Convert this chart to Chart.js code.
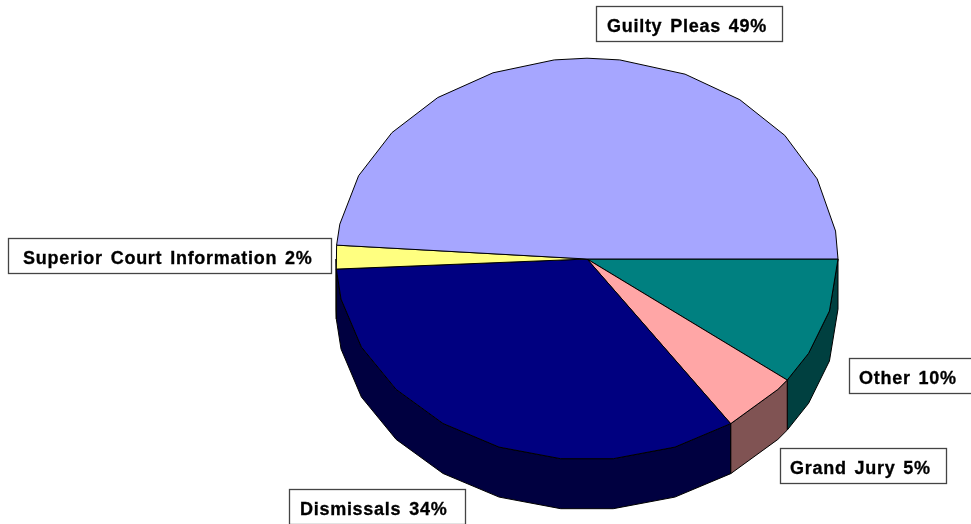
<!DOCTYPE html>
<html>
<head>
<meta charset="utf-8">
<title>Case dispositions</title>
<script src="https://cdn.jsdelivr.net/npm/chart.js@4"></script>
<style>
html, body { margin: 0; padding: 0; background: #fff; overflow: hidden; }
canvas { display: block; }
</style>
</head>
<body>
<canvas id="myChart" width="971" height="524"></canvas>
<script>
// clockwise from 3 o'clock (labels show them rounded)
var categories = ['Other', 'Grand Jury', 'Dismissals', 'Superior Court Information', 'Guilty Pleas'];
var values = [10.3, 5.0, 33.9, 1.9, 48.9];
var topColors = ['#008080', '#FFA6A6', '#000080', '#FFFF80', '#A6A6FF'];
var sideColors = ['#004040', '#805353', '#000040', '#808040', '#535380'];

// label boxes, same order as categories: x, y, w, h, text x, baseline
var boxes = [
    [849.5, 358.5, 130, 35, 859, 384],
    [780.5, 448.5, 166, 35, 790, 474],
    [289.5, 489.5, 176, 35, 300, 515],
    [8.5, 238.5, 323, 35, 23, 264],
    [596.5, 6.5, 186, 35, 607, 32]
];

var tilt = 0.8;
var depth = 50;

// the original pie is faceted, these are its rim corners in degrees
var rimCorners = [15, 28, 40.5, 55, 69.5, 84, 96, 110.5, 125, 139.5, 154, 168.5,
    190, 204.5, 219, 233.5, 248, 262.5, 270, 277.5, 293, 307.5, 322, 336.5, 352];

function rimAngles(start, end) {
    var list = [start];
    rimCorners.forEach(function(deg) {
        var a = deg * Math.PI / 180;
        if (a > start && a < end) list.push(a);
    });
    list.push(end);
    return list;
}

var pie3d = {
    id: 'pie3d',
    beforeDatasetsDraw: function(chart) {
        var ctx = chart.ctx;
        var arcs = chart.getDatasetMeta(0).data;
        ctx.save();
        ctx.lineWidth = 1;
        ctx.strokeStyle = '#000';
        ctx.lineJoin = 'round';

        // sides, only the front half shows
        arcs.forEach(function(arc, i) {
            var s = Math.max(arc.startAngle, 0);
            var e = Math.min(arc.endAngle, Math.PI);
            if (e <= s) return;
            var pts = rimAngles(s, e);
            ctx.beginPath();
            pts.forEach(function(a, n) {
                var x = arc.x + arc.outerRadius * Math.cos(a);
                var y = arc.y + arc.outerRadius * tilt * Math.sin(a);
                if (n === 0) ctx.moveTo(x, y); else ctx.lineTo(x, y);
            });
            pts.reverse().forEach(function(a) {
                ctx.lineTo(arc.x + arc.outerRadius * Math.cos(a),
                    arc.y + arc.outerRadius * tilt * Math.sin(a) + depth);
            });
            ctx.closePath();
            ctx.fillStyle = sideColors[i];
            ctx.fill();
            ctx.stroke();
        });

        // top faces
        arcs.forEach(function(arc, i) {
            ctx.beginPath();
            ctx.moveTo(arc.x, arc.y);
            rimAngles(arc.startAngle, arc.endAngle).forEach(function(a) {
                ctx.lineTo(arc.x + arc.outerRadius * Math.cos(a),
                    arc.y + arc.outerRadius * tilt * Math.sin(a));
            });
            ctx.closePath();
            ctx.fillStyle = arc.options.backgroundColor;
            ctx.fill();
            ctx.stroke();
        });
        ctx.restore();
        return false;
    },
    afterDraw: function(chart) {
        var ctx = chart.ctx;
        ctx.save();
        ctx.font = 'bold 18px "Liberation Sans", Arial, sans-serif';
        ctx.letterSpacing = '0.72px';
        ctx.wordSpacing = '2.2px';
        ctx.textBaseline = 'alphabetic';
        categories.forEach(function(name, i) {
            var b = boxes[i];
            var text = name + ' ' + Math.round(values[i]) + '%';
            ctx.fillStyle = '#fff';
            ctx.fillRect(b[0], b[1], b[2], b[3]);
            ctx.strokeStyle = '#444';
            ctx.lineWidth = 1.3;
            ctx.strokeRect(b[0], b[1], b[2], b[3]);
            ctx.fillStyle = '#000';
            ctx.fillText(text, b[4], b[5]);
            // the original lettering is a touch heavier than plain bold
            ctx.strokeStyle = '#000';
            ctx.lineWidth = 0.3;
            ctx.strokeText(text, b[4], b[5]);
        });
        ctx.restore();
    }
};

var chart = new Chart(document.getElementById('myChart').getContext('2d'), {
    type: 'pie',
    data: {
        labels: categories,
        datasets: [{
            data: values,
            backgroundColor: topColors,
            borderWidth: 0
        }]
    },
    options: {
        responsive: false,
        animation: false,
        rotation: 90,
        layout: { padding: { left: 336, right: 133, top: 8, bottom: 14 } },
        plugins: { legend: { display: false }, tooltip: { enabled: false } }
    },
    plugins: [pie3d]
});
</script>
</body>
</html>
